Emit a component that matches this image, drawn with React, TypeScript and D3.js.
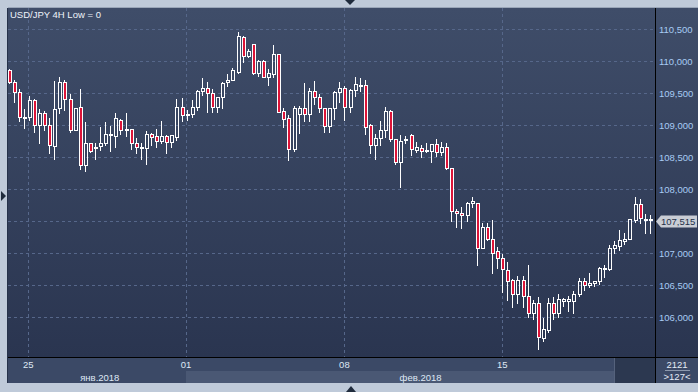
import React from "react";
import * as d3 from "d3";

// ---- data (USD/JPY 4H) ----
const opens = [109.87,109.68,109.52,109.12,109.13,109.40,109.00,109.19,109.00,108.68,109.27,109.67,109.41,108.92,109.28,108.38,108.72,108.64,108.67,108.73,108.85,108.84,109.09,108.94,108.94,108.73,108.64,108.64,108.86,108.83,108.76,108.83,108.74,108.82,109.29,109.16,109.17,109.29,109.53,109.58,109.50,109.28,109.44,109.67,109.70,109.84,110.38,110.09,110.27,109.82,110.00,109.76,109.80,110.11,109.22,109.11,108.63,109.17,109.27,109.17,109.54,109.44,109.27,108.99,109.27,109.52,109.58,109.29,109.55,109.62,109.63,109.00,108.69,108.80,108.93,109.23,108.78,108.43,108.77,108.85,108.61,108.64,108.60,108.60,108.71,108.59,108.66,108.34,107.66,107.63,107.60,107.79,107.78,107.09,107.41,107.22,107.03,106.92,106.74,106.58,106.36,106.59,106.33,106.06,106.23,105.67,105.80,106.23,106.07,106.26,106.26,106.26,106.36,106.57,106.50,106.53,106.56,106.76,106.76,107.09,107.12,107.19,107.23,107.52,107.77,107.53,107.54];
const highs = [109.89,109.73,109.58,109.27,109.47,109.42,109.27,109.24,109.13,109.71,109.77,109.73,109.50,109.29,109.58,109.07,108.73,108.74,108.99,109.06,109.00,109.20,109.11,109.20,108.94,108.81,108.74,108.93,108.90,108.95,109.08,108.86,108.87,109.42,109.44,109.25,109.41,109.56,109.75,109.69,109.58,109.46,109.69,109.82,109.91,110.48,110.41,110.20,110.27,110.03,110.03,109.89,110.27,110.12,109.29,109.18,109.32,109.32,109.67,109.60,109.71,109.51,109.27,109.28,109.55,109.69,109.63,109.58,109.77,109.75,109.72,109.04,108.88,109.08,109.30,109.25,108.80,108.86,108.85,108.88,108.76,108.71,108.74,108.73,108.80,108.76,108.74,108.34,107.70,107.74,107.81,107.90,107.79,107.49,107.49,107.53,107.11,107.01,106.88,106.61,106.66,106.66,106.83,106.28,106.33,106.00,106.32,106.33,106.38,106.31,106.35,106.43,106.63,106.63,106.70,106.59,106.80,106.84,107.15,107.20,107.38,107.34,107.55,107.90,107.86,107.63,107.61];
const lows = [109.66,109.37,109.06,108.95,109.09,108.90,108.72,108.92,108.57,108.48,109.19,109.24,108.90,108.92,108.31,108.28,108.59,108.47,108.61,108.69,108.60,108.66,108.86,108.84,108.63,108.57,108.48,108.39,108.69,108.66,108.73,108.57,108.66,108.77,109.07,109.08,109.13,109.24,109.47,109.21,109.20,109.21,109.27,109.61,109.70,109.81,109.99,110.06,109.80,109.77,109.76,109.63,109.76,109.21,108.98,108.45,108.60,108.88,109.07,109.06,109.34,109.21,108.90,108.90,109.10,109.37,109.09,109.21,109.46,109.54,108.86,108.56,108.47,108.69,108.82,108.76,108.40,108.03,108.73,108.54,108.59,108.50,108.59,108.42,108.52,108.54,108.31,107.51,107.41,107.39,107.51,107.72,106.82,107.08,107.20,106.69,106.77,106.40,106.27,106.16,106.22,106.16,106.00,105.98,105.50,105.63,105.77,105.97,106.00,106.18,106.10,106.06,106.33,106.43,106.48,106.49,106.52,106.63,106.74,107.00,107.05,107.14,107.22,107.49,107.47,107.31,107.32];
const closes = [109.68,109.52,109.13,109.13,109.40,109.00,109.19,109.00,108.69,109.25,109.67,109.41,108.92,109.27,108.38,108.72,108.60,108.66,108.73,108.86,108.86,109.11,108.92,108.92,108.73,108.66,108.66,108.86,108.82,108.76,108.83,108.74,108.85,109.29,109.16,109.18,109.28,109.53,109.59,109.50,109.28,109.44,109.66,109.71,109.86,110.40,110.09,110.16,109.82,110.00,109.76,109.81,110.11,109.21,109.10,108.63,109.27,109.27,109.17,109.54,109.44,109.27,108.99,109.27,109.52,109.58,109.29,109.55,109.64,109.63,108.98,108.69,108.80,108.93,109.23,108.78,108.42,108.76,108.78,108.63,108.66,108.60,108.61,108.71,108.59,108.66,108.34,107.66,107.63,107.60,107.78,107.81,107.09,107.41,107.22,107.00,106.92,106.75,106.57,106.36,106.59,106.33,106.06,106.23,105.69,105.81,106.23,106.07,106.28,106.28,106.28,106.36,106.57,106.50,106.54,106.57,106.77,106.77,107.09,107.13,107.21,107.23,107.53,107.77,107.55,107.54,107.515];

const priceTicks = [106, 106.5, 107, 107.5, 108, 108.5, 109, 109.5, 110, 110.5];
const dayLabels = ["25", "01", "08", "15"];
const dayTickIndex = [3.7, 34.7, 65.8, 96.8];
const monthLabels = ["янв.2018", "фев.2018"];
const lastPrice = 107.515;
const title = "USD/JPY 4H Low = 0";
const barCountText = "2121";
const visibleText = ">127<";

const W = 698;
const H = 392;
const L = 8, T = 8, PR = 655, PB = 357, BB = 383;
const FONT = "'Liberation Sans', Arial, sans-serif";

export default function App() {
  const x = d3.scaleLinear().domain([0, closes.length - 1]).range([9.5, 650.8]);
  const y = d3.scaleLinear().domain([106, 110.5]).range([317.3, 29.3]);
  const fmt = (v: number) => d3.format(".3f")(v).replace(".", ",");
  const dayX = dayTickIndex.map((d) => x(d));
  const monthCenters = [(x(0) + 4 + dayX[1]) / 2, (dayX[1] + PR) / 2];
  const ly = Math.round(y(lastPrice)) + 1.5;

  const candles = closes.map((c, i) => {
    const o = opens[i];
    const cx = Math.round(x(i));
    const top = Math.round(y(Math.max(o, c))) + 0.5;
    let bot = Math.round(y(Math.min(o, c))) + 0.5;
    if (bot - top < 1) bot = top + 1;
    const hy = Math.round(y(highs[i])) + 0.5;
    const lyy = Math.round(y(lows[i])) + 0.5;
    const up = c >= o;
    return (
      <g key={i}>
        {hy < top && <line x1={cx - 0.5} x2={cx - 0.5} y1={hy} y2={top} stroke="#fff" />}
        {lyy > bot && <line x1={cx - 0.5} x2={cx - 0.5} y1={bot} y2={lyy} stroke="#fff" />}
        <rect x={cx - 1.5} y={top} width={3} height={bot - top} fill={up ? "none" : "#dc1438"} stroke="#fff" />
      </g>
    );
  });

  return (
    <svg width={W} height={H} style={{ position: "absolute", left: 0, top: 0 }} shapeRendering="crispEdges" fontFamily={FONT}>
      <defs>
        <linearGradient id="bg" x1="0" y1="0" x2="0" y2="1">
          <stop offset="0" stopColor="#3f4d69" />
          <stop offset="1" stopColor="#2a3550" />
        </linearGradient>
      </defs>
      <rect x={0} y={0} width={W} height={H} fill="#bfcad9" />
      <rect x={L} y={T} width={W - L} height={PB - T} fill="url(#bg)" />
      {/* date axis rows */}
      <rect x={L} y={PB} width={W - L} height={BB - PB} fill="#3b4966" />
      <rect x={dayX[1]} y={371} width={614 - dayX[1]} height={BB - 371} fill="#4a5874" />
      <rect x={614} y={358} width={PR - 614} height={BB - 358} fill="#2c3850" />
      <line x1={614.5} x2={614.5} y1={358} y2={BB} stroke="#55627c" />
      {/* grid */}
      {priceTicks.map((p) => (
        <line key={p} x1={L} x2={PR} y1={Math.round(y(p)) + 0.5} y2={Math.round(y(p)) + 0.5} stroke="#56678a" strokeDasharray="3,3" />
      ))}
      {dayX.map((dx, i) => (
        <line key={i} x1={Math.round(dx) + 0.5} x2={Math.round(dx) + 0.5} y1={T} y2={PB} stroke="#56678a" strokeDasharray="3,3" />
      ))}
      {/* candles */}
      <g>{candles}</g>
      {/* frame lines */}
      <line x1={PR + 0.5} x2={PR + 0.5} y1={T} y2={BB} stroke="#000" />
      <line x1={L} x2={W} y1={PB + 0.5} y2={PB + 0.5} stroke="#000" />
      <line x1={L - 0.5} x2={L - 0.5} y1={T} y2={BB} stroke="#26324a" />
      <line x1={L} x2={W} y1={T - 0.5} y2={T - 0.5} stroke="#9aa6b8" />
      {/* title */}
      <text x={10} y={18} fontSize={9.5} fill="#eef3fa" shapeRendering="auto">{title}</text>
      {/* price axis (label hidden where the last-price marker sits) */}
      {priceTicks.filter((p) => Math.abs(y(p) - ly) > 10).map((p) => (
        <text key={p} x={659} y={y(p) + 3.5} fontSize={9.5} fill="#a8cbf4">{fmt(p)}</text>
      ))}
      {/* last price marker */}
      <polygon points={`656,${ly} 661,${ly - 6} 697,${ly - 6} 697,${ly + 6} 661,${ly + 6}`} fill="#c9cdd5" shapeRendering="auto" />
      <text x={661} y={ly + 3.5} fontSize={9.5} fill="#243048">{fmt(lastPrice)}</text>
      {/* date labels */}
      {dayLabels.map((d, i) => (
        <text key={d} x={dayX[i]} y={368} fontSize={9.5} textAnchor="middle" fill="#dfe8f5">{d}</text>
      ))}
      {monthLabels.map((m, i) => (
        <text key={m} x={monthCenters[i]} y={381} fontSize={9.5} textAnchor="middle" fill="#dfe8f5">{m}</text>
      ))}
      {/* bar count box */}
      <text x={677} y={368} fontSize={9.5} textAnchor="middle" fill="#e4ebf6">{barCountText}</text>
      <line x1={665} x2={690} y1={370.5} y2={370.5} stroke="#8d99ad" />
      <text x={677} y={380} fontSize={9.5} textAnchor="middle" fill="#e4ebf6">{visibleText}</text>
      {/* scroll triangles */}
      <polygon points="345,0 355,0 350,5" fill="#1f2b3c" shapeRendering="auto" />
      <polygon points="346,392 356,392 351,386" fill="#1f2b3c" shapeRendering="auto" />
      <polygon points="1,191 1,201 6,196" fill="#1f2b3c" shapeRendering="auto" />
    </svg>
  );
}
